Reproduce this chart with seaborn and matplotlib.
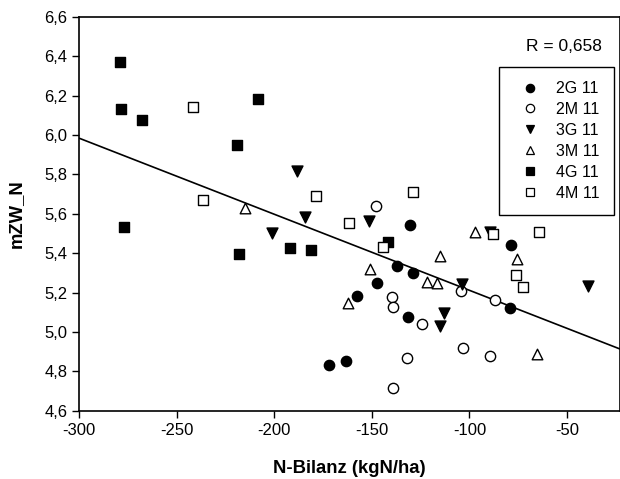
import numpy as np
import pandas as pd
import matplotlib
matplotlib.use("Agg")
import matplotlib.pyplot as plt
from matplotlib.lines import Line2D
from matplotlib.ticker import FuncFormatter
import seaborn as sns

# ---------------- data ----------------
groups = ["2G 11", "2M 11", "3G 11", "3M 11", "4G 11", "4M 11"]

x_2G = [-130.4, -78.9, -137.0, -129.1, -147.3, -157.5, -131.5, -172.1, -163.5, -79.2]
y_2G = [5.543, 5.441, 5.336, 5.300, 5.250, 5.184, 5.077, 4.832, 4.854, 5.120]

x_2M = [-148.0, -139.9, -139.4, -124.2, -132.1, -139.1, -104.5, -86.9, -103.2, -89.5]
y_2M = [5.641, 5.179, 5.128, 5.040, 4.866, 4.714, 5.208, 5.162, 4.917, 4.879]

x_3G = [-188.3, -184.4, -201.3, -151.4, -112.9, -115.1, -104.0, -89.5, -39.4]
y_3G = [5.818, 5.585, 5.500, 5.564, 5.097, 5.031, 5.242, 5.509, 5.233]

x_3M = [-215.1, -151.0, -162.2, -115.3, -121.6, -116.7, -97.2, -75.8, -65.2]
y_3M = [5.629, 5.321, 5.148, 5.384, 5.253, 5.247, 5.509, 5.369, 4.888]

x_4G = [-279.2, -278.4, -268.1, -277.0, -219.1, -208.3, -218.1, -192.1, -181.4, -141.6]
y_4G = [6.369, 6.131, 6.076, 5.534, 5.950, 6.182, 5.395, 5.427, 5.416, 5.458]

x_4M = [-241.6, -236.5, -178.9, -161.9, -144.4, -129.0, -87.8, -64.2, -76.2, -72.4]
y_4M = [6.140, 5.668, 5.691, 5.551, 5.431, 5.712, 5.497, 5.506, 5.289, 5.226]

x_ticks = [-300, -250, -200, -150, -100, -50]
y_ticks = [4.6, 4.8, 5.0, 5.2, 5.4, 5.6, 5.8, 6.0, 6.2, 6.4, 6.6]
r_label = "R = 0,658"

# ---------------- styling ----------------
xs = {"2G 11": x_2G, "2M 11": x_2M, "3G 11": x_3G, "3M 11": x_3M, "4G 11": x_4G, "4M 11": x_4M}
ys = {"2G 11": y_2G, "2M 11": y_2M, "3G 11": y_3G, "3M 11": y_3M, "4G 11": y_4G, "4M 11": y_4M}
frames = [pd.DataFrame({"x": xs[g], "y": ys[g], "group": g}) for g in groups]
df = pd.concat(frames, ignore_index=True)

styles = {
    "2G 11": dict(marker="o", fc="black"),
    "2M 11": dict(marker="o", fc="white"),
    "3G 11": dict(marker="v", fc="black"),
    "3M 11": dict(marker="^", fc="white"),
    "4G 11": dict(marker="s", fc="black"),
    "4M 11": dict(marker="s", fc="white"),
}
sizes = {"o": 55, "v": 62, "^": 58, "s": 48}

sns.set_style("ticks")
plt.rcParams["font.family"] = ["Liberation Sans", "DejaVu Sans"]
plt.rcParams["axes.unicode_minus"] = False
plt.rcParams["text.color"] = "black"
plt.rcParams["axes.labelcolor"] = "black"

fig = plt.figure(figsize=(6.2, 4.79), dpi=100)
ax = fig.add_axes([0.128, 0.1426, 0.872, 0.8225])
ax.set_xlim(-300, -22.8)
ax.set_ylim(4.6, 6.6)

sns.regplot(data=df, x="x", y="y", scatter=False, ci=None, truncate=False,
            line_kws=dict(color="black", lw=1.2), ax=ax)

for g in groups:
    st = styles[g]
    sns.scatterplot(data=df[df["group"] == g], x="x", y="y", marker=st["marker"],
                    s=sizes[st["marker"]], color=st["fc"], edgecolor="black",
                    linewidth=1.0, ax=ax, legend=False, zorder=3)

ax.set_xlim(-300, -22.8)
ax.set_ylim(4.6, 6.6)
ax.set_xticks(x_ticks)
ax.set_yticks(y_ticks)
ax.yaxis.set_major_formatter(FuncFormatter(lambda v, p: f"{v:.1f}".replace(".", ",")))
ax.xaxis.set_major_formatter(FuncFormatter(lambda v, p: f"{v:.0f}"))
ax.tick_params(axis="both", direction="out", length=5, width=1, labelsize=12, colors="black")
for sp in ax.spines.values():
    sp.set_color("black")
    sp.set_linewidth(1.2)

ax.set_xlabel("N-Bilanz (kgN/ha)", fontsize=13.3, fontweight="bold", labelpad=16, color="black")
ax.set_ylabel("mZW_N", fontsize=13.3, fontweight="bold", labelpad=14, color="black")

ax.text(0.966, 0.924, r_label, transform=ax.transAxes, ha="right", va="center",
        fontsize=12.5, color="black")

handles = [Line2D([], [], linestyle="none", marker=styles[g]["marker"], markersize=6,
                  markerfacecolor=styles[g]["fc"], markeredgecolor="black", markeredgewidth=0.9)
           for g in groups]
leg = ax.legend(handles, groups, loc="upper right", bbox_to_anchor=(0.989, 0.873),
                borderaxespad=0, fontsize=11.5, frameon=True, fancybox=False,
                edgecolor="black", framealpha=1, labelspacing=0.37, borderpad=0.9,
                handlelength=2.0, handletextpad=0.65)
leg.get_frame().set_linewidth(1.0)
for t in leg.get_texts():
    t.set_color("black")

fig.savefig("out.png", dpi=100, facecolor="white")
